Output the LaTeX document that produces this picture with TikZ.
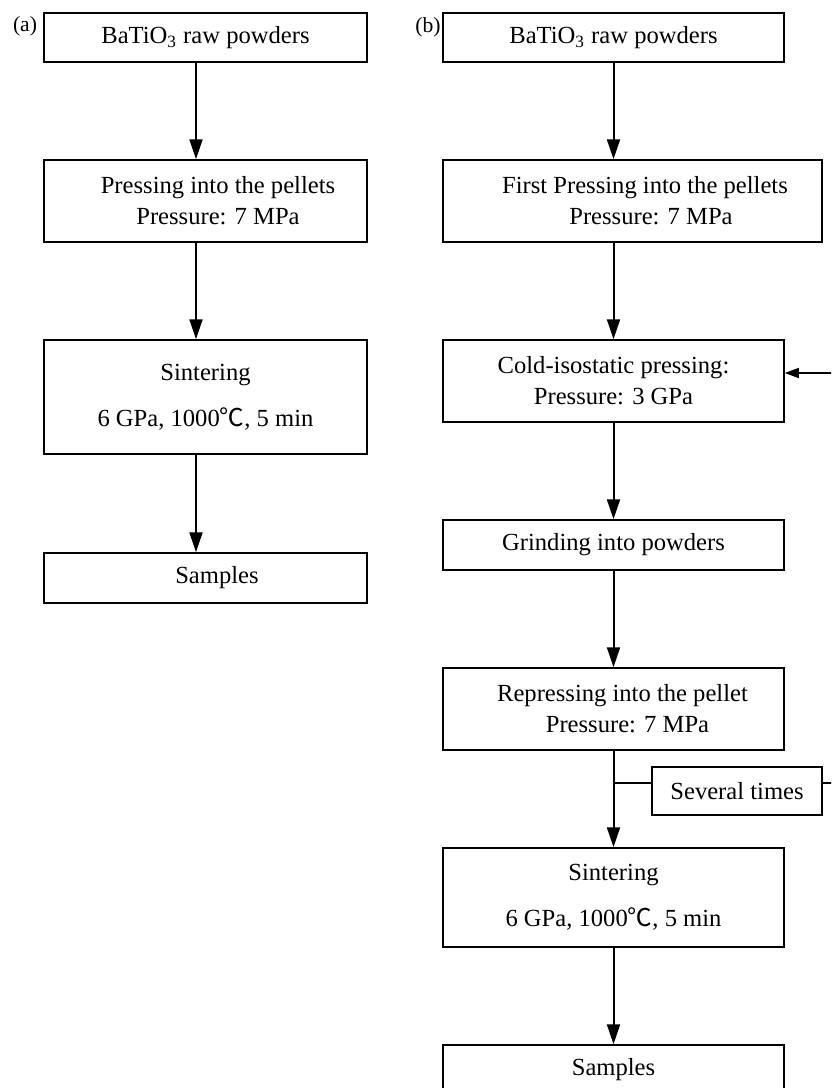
\documentclass[tikz,border=0pt]{standalone}
\usepackage{fontspec}
\setmainfont{Liberation Serif}
\newfontfamily\cjk{Noto Sans CJK SC}
\usetikzlibrary{arrows.meta}

\newcommand{\degC}{{\cjk ℃}}

\begin{document}
\begin{tikzpicture}[
    x=0.5pt, y=-0.5pt,
    box/.style={draw, line width=0.75pt, inner sep=0pt, align=center, font=\fontsize{12.3}{15.5}\selectfont},
    arrow/.style={-{Triangle[length=10pt, width=6.5pt]}, line width=1pt},
    back/.style={-{Triangle[length=7pt, width=5pt]}, line width=0.75pt},
    link/.style={line width=0.8pt},
    tag/.style={font=\fontsize{10.8}{13}\selectfont, inner sep=0pt}
]
\useasboundingbox (0,0) rectangle (831,1088);
\clip (0,0) rectangle (831,1088);

% Panel (a): plain route
\node[tag] (taga) at (25,26) {(a)};
\node[box, minimum width=161.5pt, minimum height=24.5pt] (araw) at (205.5,37.5) {BaTiO\textsubscript{3} raw powders};
\node[box, minimum width=161.5pt, minimum height=41pt] (apress) at (205.5,201) {\hspace*{12.5pt}Pressing into the pellets\\\hspace*{12.5pt}Pressure: 7 MPa};
\node[box, minimum width=161.5pt, minimum height=57pt] (asinter) at (205.5,397) {Sintering\\[7.5pt]6 GPa, 1000\degC, 5 min};
\node[box, minimum width=161.5pt, minimum height=25pt] (asample) at (205.5,578) {\hspace*{11.5pt}Samples};

% arrows of (a) run left of the box centres
\coordinate (acol) at ([xshift=-4.75pt]araw.south);
\draw[arrow] (acol |- araw.south) -- (acol |- apress.north);
\draw[arrow] (acol |- apress.south) -- (acol |- asinter.north);
\draw[arrow] (acol |- asinter.south) -- (acol |- asample.north);

% Panel (b): route with cold-isostatic pressing
\node[tag] (tagb) at (428,27) {(b)};
\node[box, minimum width=170.5pt, minimum height=24.5pt] (braw) at (613.5,37.5) {BaTiO\textsubscript{3} raw powders};
\node[box, minimum width=189.5pt, minimum height=41pt] (bpress) at (632.5,201) {\hspace*{12.5pt}First Pressing into the pellets\\\hspace*{18.5pt}Pressure: 7 MPa};
\node[box, minimum width=170.5pt, minimum height=41pt] (bcold) at (613.5,381) {Cold-isostatic pressing:\\Pressure: 3 GPa};
\node[box, minimum width=170.5pt, minimum height=25pt] (bgrind) at (613.5,545) {Grinding into powders};
\node[box, minimum width=170.5pt, minimum height=41pt] (brepress) at (613.5,709) {\hspace*{9pt}Repressing into the pellet\\\hspace*{14pt}Pressure: 7 MPa};
\node[box, minimum width=170.5pt, minimum height=49.5pt] (bsinter) at (613.5,897.5) {Sintering\\[7.5pt]6 GPa, 1000\degC, 5 min};
\node[box, minimum width=170.5pt, minimum height=25pt] (bsample) at (613.5,1070) {Samples};
\node[box, minimum width=85pt, minimum height=24pt] (several) at (737,791) {Several times};

\coordinate (bcol) at (braw.south);
\draw[arrow] (bcol |- braw.south) -- (bcol |- bpress.north);
\draw[arrow] (bcol |- bpress.south) -- (bcol |- bcold.north);
\draw[arrow] (bcol |- bcold.south) -- (bcol |- bgrind.north);
\draw[arrow] (bcol |- bgrind.south) -- (bcol |- brepress.north);
\draw[arrow] (bcol |- brepress.south) -- (bcol |- bsinter.north);
\draw[arrow] (bcol |- bsinter.south) -- (bcol |- bsample.north);

% repeat loop back to cold-isostatic pressing
\coordinate (sevin) at ([yshift=4pt]several.west);
\coordinate (sevout) at ([yshift=4pt]several.east);
\coordinate (coldin) at ([yshift=4pt]bcold.east);
\coordinate (bend) at (845,0);
\draw[link] (bcol |- sevin) -- (sevin);
\draw[back] (sevout) -- (sevout -| bend) -- (coldin -| bend) -- (coldin);

\end{tikzpicture}
\end{document}
